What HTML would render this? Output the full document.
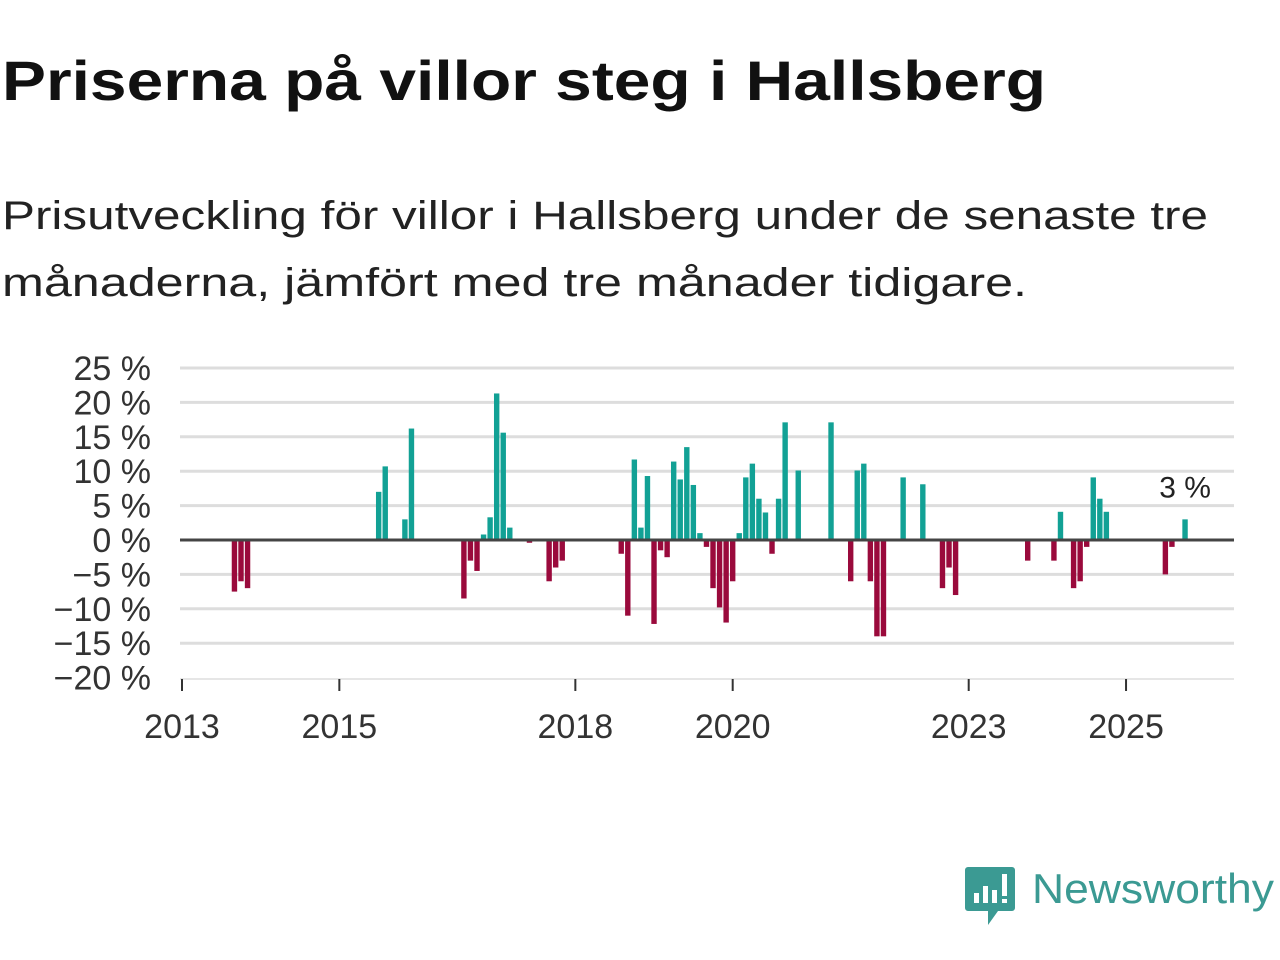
<!DOCTYPE html>
<html><head><meta charset="utf-8"><style>
html,body{margin:0;padding:0;background:#fff;}
svg{display:block;font-family:"Liberation Sans",sans-serif;}
</style></head><body>
<svg id="chart" width="1280" height="960" viewBox="0 0 1280 960">
<text x="2" y="100" font-size="56" font-weight="bold" fill="#111" textLength="1044" lengthAdjust="spacingAndGlyphs">Priserna på villor steg i Hallsberg</text>
<text x="2" y="229" font-size="40" fill="#222" textLength="1206" lengthAdjust="spacingAndGlyphs">Prisutveckling för villor i Hallsberg under de senaste tre</text>
<text x="2" y="296" font-size="40" fill="#222" textLength="1025" lengthAdjust="spacingAndGlyphs">månaderna, jämfört med tre månader tidigare.</text>
<g id="grid"></g>
<g id="yticks"></g>
<g id="bars"></g>
<line x1="180" x2="1234" y1="540" y2="540" stroke="#444" stroke-width="3"/>
<line x1="180" x2="1234" y1="679" y2="679" stroke="#ccc" stroke-width="1"/>
<g id="xticks"></g>
<g id="annot"></g>
<g>
<path d="M968 867 h44 a3 3 0 0 1 3 3 v38 a3 3 0 0 1 -3 3 h-14 l-10 14 v-14 h-20 a3 3 0 0 1 -3 -3 v-38 a3 3 0 0 1 3 -3z" fill="#3b9a93"/>
<rect x="974" y="893" width="5" height="10" fill="#fff"/>
<rect x="983" y="886" width="5" height="17" fill="#fff"/>
<rect x="992" y="890" width="5" height="13" fill="#fff"/>
<rect x="1002" y="874" width="5" height="22" fill="#fff"/>
<rect x="1002" y="899" width="5" height="4" fill="#fff"/>
<text x="1032" y="903" font-size="42" fill="#3b9a93" textLength="242" lengthAdjust="spacingAndGlyphs">Newsworthy</text>
</g>
</svg>
<script>
const months=[8,9,10,30,31,34,35,43,44,45,46,47,48,49,50,53,56,57,58,67,68,69,70,71,72,73,74,75,76,77,78,79,80,81,82,83,84,85,86,87,88,89,90,91,92,94,99,102,103,104,105,106,107,110,113,116,117,118,129,133,134,136,137,138,139,140,141,150,151,153];
const values=[-7.5,-6,-7,7,10.7,3,16.2,-8.5,-3,-4.5,0.8,3.3,21.3,15.6,1.8,-0.4,-6,-4,-3,-2,-11,11.7,1.8,9.3,-12.2,-1.5,-2.5,11.4,8.8,13.5,8,1,-1,-7,-9.8,-12,-6,1,9.1,11.1,6,4,-2,6,17.1,10.1,17.1,-6,10.1,11.1,-6,-14,-14,9.1,8.1,-7,-4,-8,-3,-3,4.1,-7,-6,-1,9.1,6,4.1,-5,-1,3];
const yTicks=[25,20,15,10,5,0,-5,-10,-15,-20];
const xTickYears=[2013,2015,2018,2020,2023,2025];
const ns="http://www.w3.org/2000/svg";
const x0=182,pxPerYear=78.67;
function xm(m){return x0+m*pxPerYear/12;}
function xy(yr){return x0+(yr-2013)*pxPerYear;}
function yv(v){return 540-v*6.88;}
function mk(tag,attrs,parent){const e=document.createElementNS(ns,tag);for(const k in attrs)e.setAttribute(k,attrs[k]);parent.appendChild(e);return e;}
const grid=document.getElementById('grid'),yt=document.getElementById('yticks');
yTicks.forEach(t=>{
  if(t!==0&&t!==-20){const l=mk('line',{x1:180,x2:1234,y1:yv(t),y2:yv(t),stroke:'#ddd','stroke-width':3},grid);
  
  }
  const tx=mk('text',{x:151,y:yv(t)+12,'font-size':34,'text-anchor':'end',fill:'#333'},yt);
  tx.textContent=(t<0?'\u2212'+(-t):t)+' %';
  
  
});
const xt=document.getElementById('xticks');
xTickYears.forEach(yr=>{
  const l=mk('line',{x1:xy(yr),x2:xy(yr),y1:679,y2:691,stroke:'#333','stroke-width':2},xt);
  
  
  const tx=mk('text',{x:xy(yr),y:738,'font-size':34,'text-anchor':'middle',fill:'#333'},xt);
  tx.textContent=yr;
  
  
});
const bars=document.getElementById('bars');
months.forEach((m,i)=>{
  const v=values[i],y=yv(Math.max(v,0)),h=Math.abs(yv(v)-yv(0));
  const r=mk('rect',{x:xm(m)-2.7,y:y,width:5.4,height:h,fill:v>=0?'#12a195':'#9a0a3c'},bars);
  
  
});
const an=document.getElementById('annot');
const li=months.length-1;
const at=mk('text',{x:xm(months[li]),y:yv(values[li])-22,'font-size':30,'text-anchor':'middle',fill:'#222',stroke:'#fff','stroke-width':6,'paint-order':'stroke'},an);
at.textContent=values[li]+' %';


</script>
</body></html>
